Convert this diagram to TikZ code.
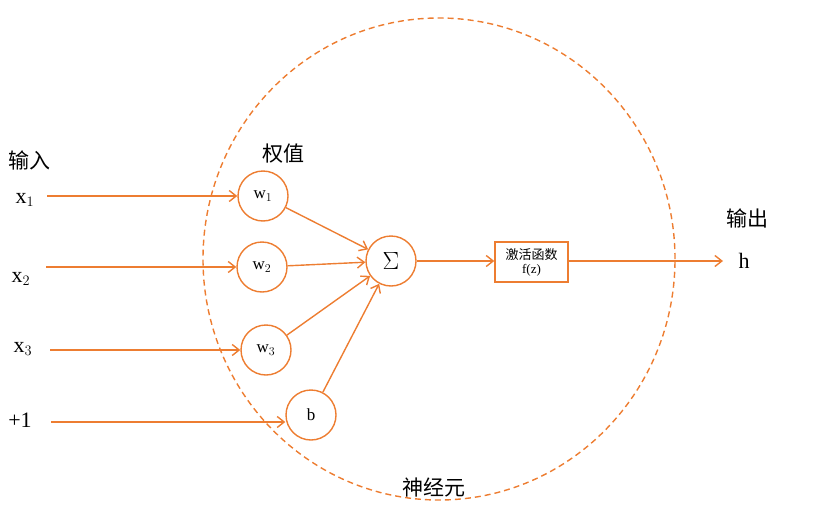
\documentclass[tikz,border=0pt]{standalone}
\usepackage{fontspec}
\setmainfont{Liberation Serif}
\newfontfamily\cjk{Noto Sans CJK SC}
\usetikzlibrary{positioning,arrows.meta}
\definecolor{NRorange}{HTML}{ED7D31}

\begin{document}
\begin{tikzpicture}[x=1pt, y=-1pt,
  unit/.style={circle, draw=NRorange, line width=1.4pt, minimum size=50pt, inner sep=0pt, font=\fontsize{17}{18}\selectfont},
  actbox/.style={rectangle, draw=NRorange, line width=1.4pt, minimum width=73pt, minimum height=40pt,
    inner sep=1pt, align=center, font=\fontsize{13}{14}\selectfont},
  inlabel/.style={font=\fontsize{22}{24}\selectfont},
  title/.style={font=\cjk\fontsize{21}{23}\selectfont},
  arrow/.style={-{Straight Barb[length=7pt,width=11pt]}, line width=1.4pt, draw=NRorange}]

  \useasboundingbox (0,0) rectangle (832,514);

  % neuron outline
  \draw[NRorange, line width=1.4pt, dash pattern=on 6pt off 4pt] (439,259) ellipse[x radius=236pt, y radius=241pt];

  % inputs
  \node[inlabel] (x1) at (25,200) {x$_1$};
  \node[inlabel] (x2) at (21,279) {x$_2$};
  \node[inlabel] (x3) at (23,349) {x$_3$};
  \node[inlabel] (one) at (20,420) {+1};
  \coordinate (x1e) at (47,196);
  \coordinate (x2e) at (46,267);
  \coordinate (x3e) at (50,350);
  \coordinate (onee) at (51,422);

  % weights
  \node[unit] (w1) at (263,196) {w$_1$};
  \node[unit] (w2) at (262,267) {w$_2$};
  \node[unit] (w3) at (266,350) {w$_3$};
  \node[unit] (b) at (311,415) {b};

  \node[unit, font=\fontsize{23}{24}\selectfont] (sum) at (391,261) {$\Sigma$};
  \node[actbox] (act) at (531.5,262) {{\cjk 激活函数}\\f(z)};
  \node[inlabel] (h) at (744,261) {h};
  \coordinate (he) at (723,261);

  % titles
  \node[title] (tin) at (30,160) {输入};
  \node[title] (tw) at (283,154) {权值};
  \node[title] (tout) at (747,218) {输出};
  \node[title] (tneu) at (434,488) {神经元};

  \draw[arrow] (x1e) -- (w1);
  \draw[arrow] (x2e) -- (w2);
  \draw[arrow] (x3e) -- (w3);
  \draw[arrow] (onee) -- (b.west |- onee);
  \draw[arrow] (w1) -- (sum);
  \draw[arrow] (w2) -- (sum);
  \draw[arrow] (w3) -- (sum);
  \draw[arrow] (b) -- (sum);
  \draw[arrow] (sum) -- (act.west |- sum);
  \draw[arrow] (act.east |- sum) -- (he);
\end{tikzpicture}
\end{document}
